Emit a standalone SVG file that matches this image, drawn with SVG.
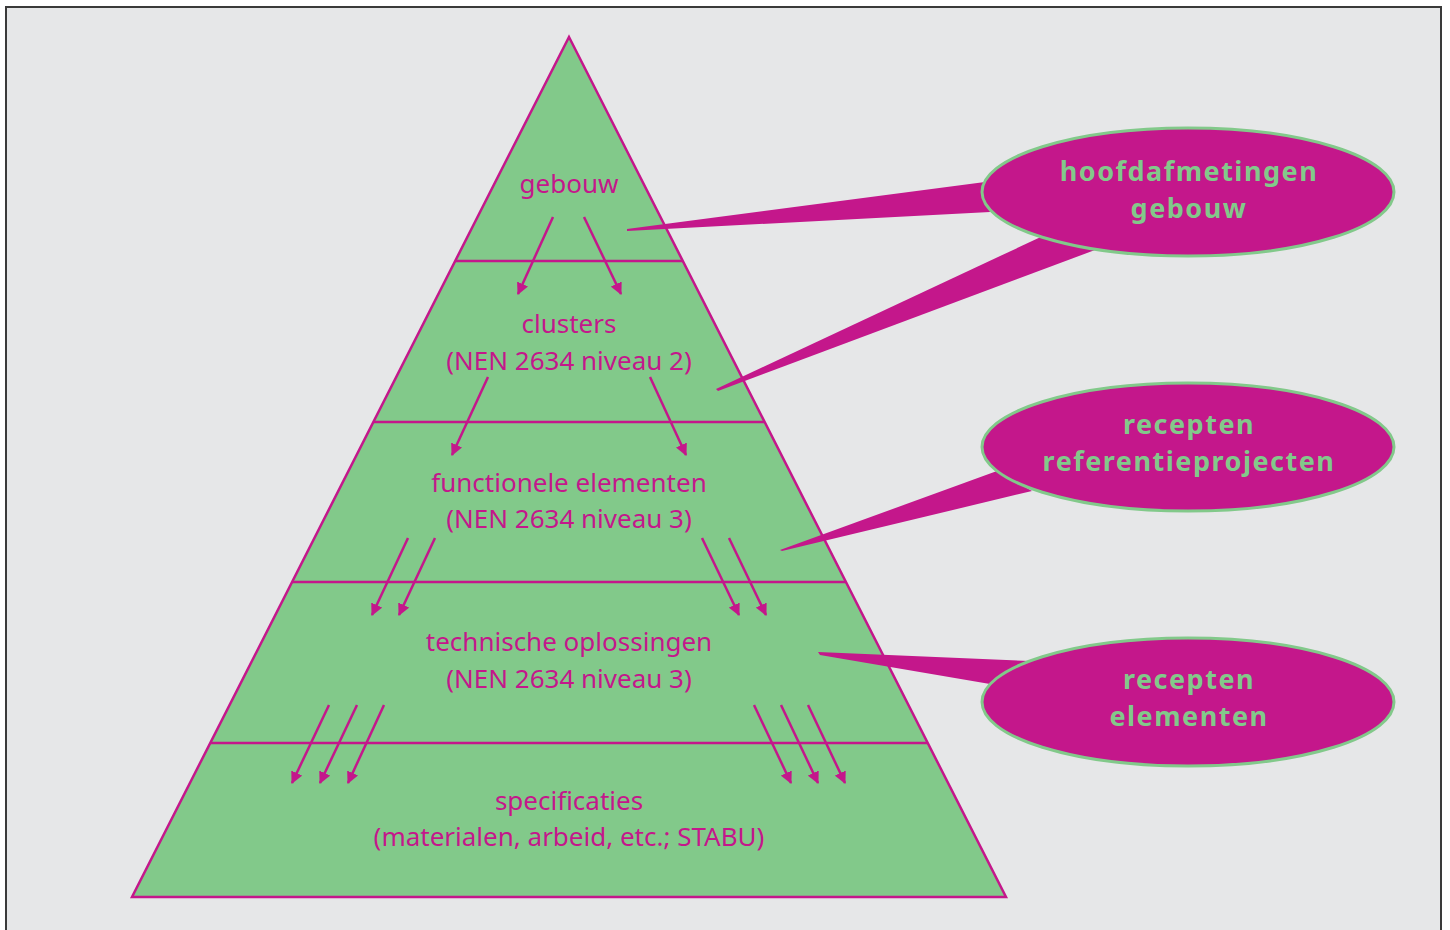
<svg xmlns="http://www.w3.org/2000/svg" width="1450" height="930" viewBox="0 0 1450 930">
<defs>
<marker id="arr" viewBox="0 0 12 12" refX="11" refY="6" markerWidth="12" markerHeight="12" markerUnits="userSpaceOnUse" orient="auto">
<path d="M0,0 L12,6 L0,12 Z" fill="#c4178b"/>
</marker>
<style>
.lvl{font-family:"Noto Sans",Lato,sans-serif;font-size:26px;fill:#c4178b;text-anchor:middle}
.cl{font-family:"Noto Sans",Lato,sans-serif;font-size:27px;letter-spacing:1.5px;font-weight:bold;fill:#82c98a;text-anchor:middle}
.ar{stroke:#c4178b;stroke-width:2.5;fill:none;marker-end:url(#arr)}
.ell{fill:#c4178b;stroke:#82c98a;stroke-width:3}
.tail{fill:#c4178b}
.div{stroke:#c4178b;stroke-width:2.5}
</style>
</defs>
<rect x="0" y="0" width="1450" height="930" fill="#ffffff"/>
<rect x="6" y="7" width="1435" height="940" fill="#e6e7e8" stroke="#3a3a3a" stroke-width="2"/>

<g id="pyramid">
<polygon points="569,37 1006,897 132,897" fill="#82c98a" stroke="#c4178b" stroke-width="2.5"/>
<line class="div" x1="455" y1="261" x2="683" y2="261"/>
<line class="div" x1="373" y1="422" x2="765" y2="422"/>
<line class="div" x1="292" y1="582" x2="846" y2="582"/>
<line class="div" x1="210" y1="743" x2="928" y2="743"/>
</g>

<g id="level-gebouw"><text class="lvl" x="569" y="193">gebouw</text></g>
<g id="level-clusters"><text class="lvl" x="569" y="333">clusters</text><text class="lvl" x="569" y="370">(NEN 2634 niveau 2)</text></g>
<g id="level-functionele"><text class="lvl" x="569" y="492">functionele elementen</text><text class="lvl" x="569" y="528">(NEN 2634 niveau 3)</text></g>
<g id="level-technische"><text class="lvl" x="569" y="651">technische oplossingen</text><text class="lvl" x="569" y="688">(NEN 2634 niveau 3)</text></g>
<g id="level-specificaties"><text class="lvl" x="569" y="810">specificaties</text><text class="lvl" x="569" y="846">(materialen, arbeid, etc.; STABU)</text></g>

<g id="connectors">
<line class="ar" x1="553" y1="217" x2="518" y2="294"/>
<line class="ar" x1="584" y1="217" x2="621" y2="294"/>
<line class="ar" x1="488" y1="377" x2="452" y2="455"/>
<line class="ar" x1="650" y1="377" x2="686" y2="455"/>
<line class="ar" x1="408" y1="538" x2="372" y2="615"/>
<line class="ar" x1="435" y1="538" x2="399" y2="615"/>
<line class="ar" x1="702" y1="538" x2="739" y2="615"/>
<line class="ar" x1="729" y1="538" x2="766" y2="615"/>
<line class="ar" x1="329" y1="705" x2="292" y2="783"/>
<line class="ar" x1="357" y1="705" x2="320" y2="783"/>
<line class="ar" x1="384" y1="705" x2="348" y2="783"/>
<line class="ar" x1="754" y1="705" x2="791" y2="783"/>
<line class="ar" x1="781" y1="705" x2="818" y2="783"/>
<line class="ar" x1="808" y1="705" x2="845" y2="783"/>
<polygon class="tail" points="627,229 985,182 990,212 627,231"/>
<polygon class="tail" points="716,389 1045,235 1095,250 718,391"/>
<polygon class="tail" points="780,550 997,471 1032,491 782,551"/>
<polygon class="tail" points="818,652 1030,661 990,684 820,655"/>
</g>

<g id="callout-hoofdafmetingen">
<ellipse class="ell" cx="1188" cy="192" rx="206" ry="64"/>
<text class="cl" x="1189" y="181">hoofdafmetingen</text>
<text class="cl" x="1189" y="218">gebouw</text>
</g>
<g id="callout-referentieprojecten">
<ellipse class="ell" cx="1188" cy="447" rx="206" ry="64"/>
<text class="cl" x="1189" y="434">recepten</text>
<text class="cl" x="1189" y="471">referentieprojecten</text>
</g>
<g id="callout-elementen">
<ellipse class="ell" cx="1188" cy="702" rx="206" ry="64"/>
<text class="cl" x="1189" y="689">recepten</text>
<text class="cl" x="1189" y="726">elementen</text>
</g>
</svg>
